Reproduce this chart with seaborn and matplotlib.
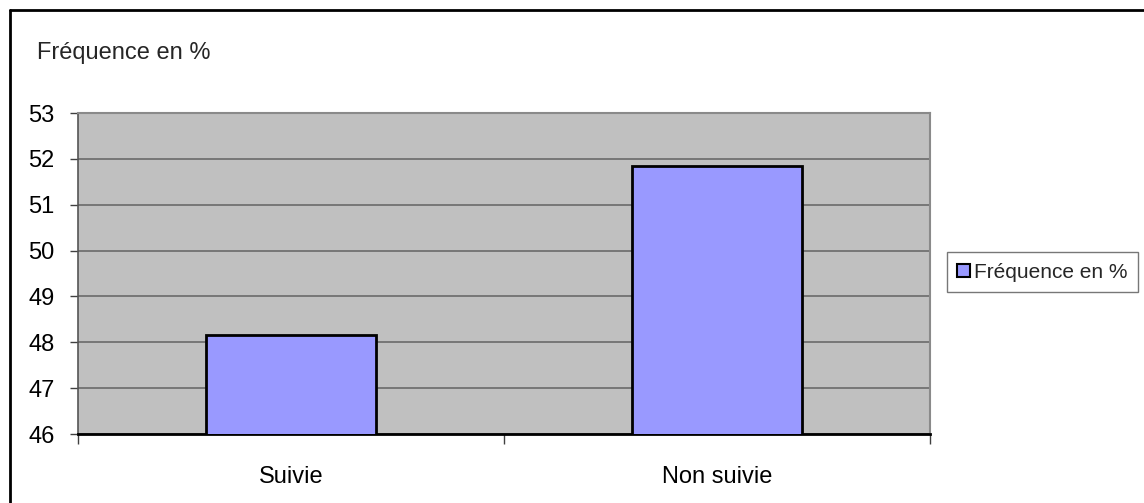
import matplotlib
matplotlib.use("Agg")
import matplotlib.pyplot as plt
from matplotlib.lines import Line2D
from matplotlib.ticker import FixedLocator
import seaborn as sns
import pandas as pd

categories = ["Suivie", "Non suivie"]
frequences = [48.15, 51.85]
y_ticks = [46, 47, 48, 49, 50, 51, 52, 53]
series_label = "Fréquence en %"

sns.set_theme(style="white")
plt.rcParams["font.family"] = ["Liberation Sans", "DejaVu Sans"]

FS = 17
W, H = 1144, 503
fig = plt.figure(figsize=(W / 100, H / 100), dpi=100)
ax = fig.add_axes([78 / W, 1 - 434 / H, (930 - 78) / W, (434 - 113) / H])

df = pd.DataFrame({"cat": categories, "val": frequences})
sns.barplot(data=df, x="cat", y="val", ax=ax, color="#9999FF", saturation=1,
            width=0.4, edgecolor="black", linewidth=2, label=series_label, zorder=3)

ax.set_facecolor("#C0C0C0")
ax.set_ylim(46, 53)
ax.set_xlim(-0.5, 1.5)
ax.set_yticks(y_ticks)
ax.yaxis.grid(True, color="#6a6a6a", linewidth=1.2, zorder=1)
ax.set_axisbelow(True)

ax.set_xlabel("")
ax.set_ylabel("")
ax.tick_params(axis="x", which="major", length=0, pad=23, labelsize=FS, labelcolor="black")
ax.xaxis.set_minor_locator(FixedLocator([-0.5, 0.5, 1.5]))
ax.tick_params(axis="x", which="minor", bottom=True, length=7, width=1, color="#404040")
ax.tick_params(axis="y", left=True, length=6, width=1, color="#404040",
               pad=11, labelsize=FS, labelcolor="black")

for side in ["top", "right"]:
    ax.spines[side].set_visible(True)
    ax.spines[side].set_color("#8a8a8a")
    ax.spines[side].set_linewidth(1.5)
ax.spines["bottom"].set_color("black")
ax.spines["bottom"].set_linewidth(2)
ax.spines["left"].set_color("#555555")
ax.spines["left"].set_linewidth(1.2)

fig.text(37 / W, 1 - 53 / H, series_label, fontsize=FS, va="center", ha="left")

handles, labels = ax.get_legend_handles_labels()
if ax.get_legend() is not None:
    ax.get_legend().remove()
leg = fig.legend(handles[:1], labels[:1], loc="center left",
                 bbox_to_anchor=(947 / W, 1 - 272 / H), frameon=True, fancybox=False,
                 edgecolor="#555555", fontsize=15, handlelength=0.6, handleheight=0.6,
                 handletextpad=0.2, borderpad=0.5, borderaxespad=0)
leg.get_frame().set_linewidth(1)
for p in leg.get_patches():
    p.set_linewidth(1.5)

fig.add_artist(Line2D([10 / W, 1], [1 - 10 / H] * 2, transform=fig.transFigure,
                      color="black", linewidth=2))
fig.add_artist(Line2D([10 / W, 10 / W], [0, 1 - 10 / H], transform=fig.transFigure,
                      color="black", linewidth=2))

fig.savefig("out.png", dpi=100, facecolor="white")
